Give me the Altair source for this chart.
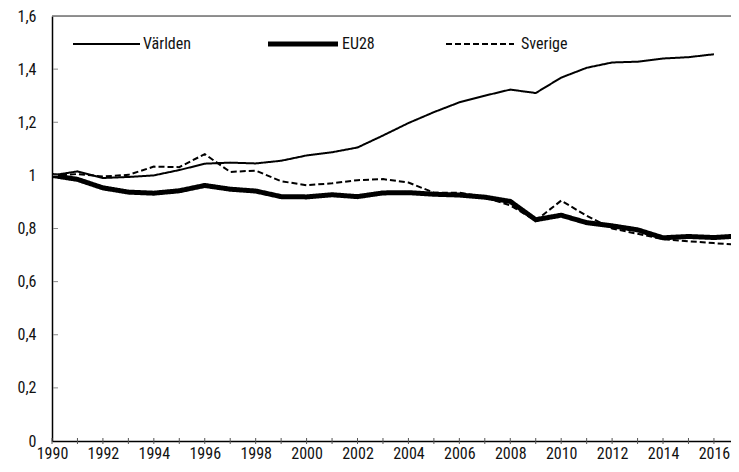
import altair as alt
import pandas as pd

years = list(range(1990, 2018))
series_names = ["Världen", "EU28", "Sverige"]
varlden = [1.0, 1.015, 0.99, 0.994, 1.0, 1.02, 1.044, 1.048, 1.045, 1.055, 1.075, 1.087, 1.105,
           1.15, 1.197, 1.238, 1.275, 1.30, 1.323, 1.31, 1.368, 1.405, 1.425, 1.428, 1.44, 1.445, 1.456, None]
eu28 = [1.0, 0.985, 0.953, 0.937, 0.933, 0.942, 0.962, 0.948, 0.941, 0.92, 0.919, 0.927, 0.92,
        0.934, 0.935, 0.929, 0.926, 0.918, 0.902, 0.833, 0.85, 0.822, 0.81, 0.795, 0.765, 0.77, 0.766, 0.772]
sverige = [1.0, 1.005, 0.996, 1.002, 1.033, 1.031, 1.08, 1.013, 1.018, 0.978, 0.963, 0.97, 0.982,
           0.986, 0.973, 0.935, 0.935, 0.918, 0.887, 0.83, 0.905, 0.848, 0.8, 0.78, 0.76, 0.752, 0.745, 0.738]
y_ticks = [0, 0.2, 0.4, 0.6, 0.8, 1.0, 1.2, 1.4, 1.6]
x_ticks = list(range(1990, 2017))

rows = []
for name, vals in zip(series_names, [varlden, eu28, sverige]):
    for yr, v in zip(years, vals):
        if v is not None:
            rows.append({"year": yr, "value": v, "series": name})
df = pd.DataFrame(rows)

W, H = 679, 425
FONT = "Roboto Condensed, Liberation Sans Narrow, Roboto, sans-serif"
styles = {"Världen": (2.0, [1, 0]), "EU28": (5, [1, 0]), "Sverige": (2.0, [6, 3])}

xscale = alt.Scale(domain=[1990, 2016.67], nice=False, zero=False)
yscale = alt.Scale(domain=[0, 1.6], nice=False)

x_enc = alt.X("year:Q", scale=xscale, title=None,
              axis=alt.Axis(values=x_ticks, tickSize=0, grid=False, domainColor="black", domainWidth=1.5,
                            labelExpr="datum.value % 2 == 0 ? format(datum.value, 'd') : ''",
                            labelFont=FONT, labelFontSize=16, labelColor="#111", labelPadding=4,
                            labelFlush=False, labelOverlap=False))
y_enc = alt.Y("value:Q", scale=yscale, title=None,
              axis=alt.Axis(values=y_ticks, tickSize=0, grid=False, domainColor="black", domainWidth=1.5,
                            labelExpr="replace(format(datum.value, '.1~f'), '.', ',')",
                            labelFont=FONT, labelFontSize=16, labelColor="#111", labelPadding=16))

line_layers = []
for i, name in enumerate(series_names):
    sw, dash = styles[name]
    line_layers.append(
        alt.Chart(df).transform_filter(alt.datum.series == name)
        .mark_line(clip=True, color="black", strokeWidth=sw, strokeDash=dash)
        .encode(x=x_enc if i == 0 else alt.X("year:Q", scale=xscale),
                y=y_enc if i == 0 else alt.Y("value:Q", scale=yscale))
    )

top_line = alt.Chart(pd.DataFrame({"v": [y_ticks[-1]]})).mark_rule(color="#6f6f6f", strokeWidth=1.5).encode(
    y=alt.Y("v:Q", scale=yscale)
)

ytick_df = pd.DataFrame({"v": y_ticks[1:-1]})
yticks = alt.Chart(ytick_df).mark_rule(color="#888", strokeWidth=1).encode(
    y=alt.Y("v:Q", scale=yscale), x=alt.value(1), x2=alt.value(6)
)
xtick_df = pd.DataFrame({"yr": x_ticks})
xticks = alt.Chart(xtick_df).mark_rule(color="#555", strokeWidth=1).encode(
    x=alt.X("yr:Q", scale=xscale), y=alt.value(H - 3), y2=alt.value(H + 3)
)

legend_layout = {"Världen": (21, 88, 91), "EU28": (216, 286, 290), "Sverige": (394, 462, 469)}
legend_layers = []
for name in series_names:
    x0, x1, tx = legend_layout[name]
    sw, dash = styles[name]
    ldf = pd.DataFrame({"name": [name]})
    legend_layers.append(
        alt.Chart(ldf).mark_rule(color="black", strokeWidth=sw, strokeDash=dash).encode(
            x=alt.value(x0), x2=alt.value(x1), y=alt.value(28))
    )
    legend_layers.append(
        alt.Chart(ldf).mark_text(font=FONT, fontSize=16, color="#111", align="left", baseline="middle").encode(
            x=alt.value(tx), y=alt.value(28), text="name:N")
    )

chart = alt.layer(*line_layers, top_line, yticks, xticks, *legend_layers).properties(
    width=W, height=H,
    autosize=alt.AutoSizeParams(type="none"),
    padding={"left": 44, "top": 8, "right": 0, "bottom": 23},
).configure_view(stroke=None).configure(background="white")

chart.save("out.html", embed_options={"renderer": "svg", "actions": False})
